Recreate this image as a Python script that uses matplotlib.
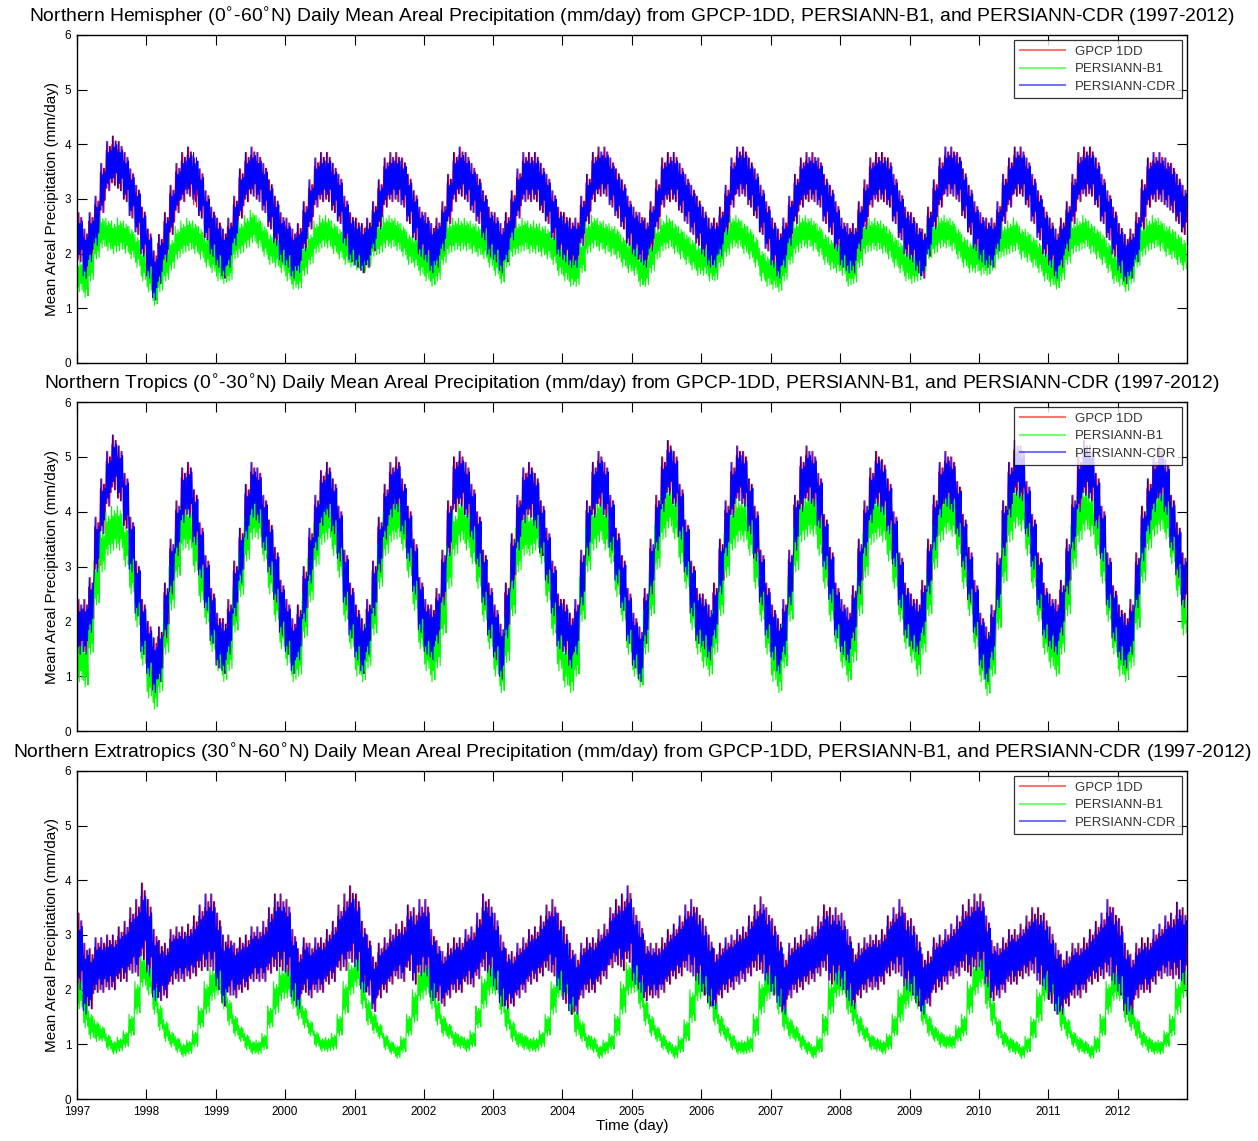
import numpy as np
import pandas as pd
import matplotlib
matplotlib.use("Agg")
import matplotlib.pyplot as plt

plt.rcParams['font.family'] = ['Liberation Sans', 'DejaVu Sans']
plt.rcParams['mathtext.fontset'] = 'dejavusans'

# monthly levels (mm/day), Jan 1997 .. Dec 2012
# Northern Hemisphere 0-60N
nh_gpcp = [
    2.3, 2.0, 2.3, 2.6, 3.2, 3.6, 3.7, 3.6, 3.4, 3.1, 2.8, 2.4,
    2.0, 1.6, 1.9, 2.3, 2.8, 3.2, 3.4, 3.5, 3.3, 3.1, 2.7, 2.4,
    2.2, 2.0, 2.2, 2.6, 3.1, 3.4, 3.5, 3.4, 3.2, 2.9, 2.6, 2.3,
    2.2, 2.0, 2.1, 2.5, 2.9, 3.3, 3.4, 3.4, 3.2, 3.0, 2.6, 2.3,
    2.2, 2.1, 2.2, 2.5, 2.9, 3.3, 3.4, 3.4, 3.3, 3.0, 2.7, 2.4,
    2.3, 2.1, 2.2, 2.5, 3.0, 3.4, 3.5, 3.4, 3.2, 3.0, 2.7, 2.4,
    2.3, 2.1, 2.3, 2.7, 3.1, 3.4, 3.4, 3.4, 3.2, 3.0, 2.7, 2.4,
    2.3, 2.2, 2.2, 2.6, 3.0, 3.4, 3.5, 3.5, 3.3, 3.1, 2.9, 2.6,
    2.4, 2.3, 2.2, 2.5, 2.9, 3.3, 3.4, 3.4, 3.2, 3.0, 2.8, 2.6,
    2.4, 2.2, 2.2, 2.4, 2.8, 3.3, 3.5, 3.5, 3.3, 3.1, 2.8, 2.5,
    2.2, 2.0, 2.2, 2.6, 3.0, 3.3, 3.4, 3.4, 3.3, 3.0, 2.8, 2.5,
    2.2, 2.1, 2.1, 2.5, 2.9, 3.3, 3.4, 3.4, 3.3, 3.0, 2.7, 2.4,
    2.3, 2.1, 2.0, 2.4, 2.9, 3.3, 3.5, 3.5, 3.4, 3.1, 2.8, 2.5,
    2.3, 2.2, 2.2, 2.5, 3.0, 3.3, 3.5, 3.5, 3.3, 3.0, 2.7, 2.4,
    2.2, 2.0, 2.2, 2.5, 3.0, 3.4, 3.5, 3.5, 3.3, 3.0, 2.7, 2.4,
    2.1, 1.9, 2.0, 2.3, 2.9, 3.3, 3.4, 3.4, 3.3, 3.2, 3.0, 2.8,
]
nh_b1 = [
    1.6, 1.5, 1.8, 2.2, 2.4, 2.35, 2.3, 2.35, 2.3, 2.2, 2.05, 1.8,
    1.6, 1.35, 1.6, 1.8, 2.0, 2.2, 2.3, 2.35, 2.3, 2.2, 2.05, 1.95,
    1.8, 1.75, 1.8, 2.2, 2.3, 2.4, 2.5, 2.4, 2.25, 2.1, 2.05, 1.95,
    1.8, 1.65, 1.65, 1.9, 2.1, 2.3, 2.4, 2.4, 2.3, 2.2, 2.1, 2.05,
    2.0, 1.95, 2.05, 2.25, 2.3, 2.4, 2.4, 2.35, 2.25, 2.1, 2.05, 1.9,
    1.8, 1.7, 1.8, 2.1, 2.3, 2.35, 2.35, 2.35, 2.3, 2.25, 2.2, 2.05,
    1.9, 1.75, 2.05, 2.25, 2.3, 2.35, 2.3, 2.3, 2.25, 2.2, 2.1, 1.9,
    1.8, 1.7, 1.7, 1.95, 2.3, 2.4, 2.35, 2.3, 2.25, 2.2, 2.05, 1.95,
    1.9, 1.7, 1.7, 1.95, 2.2, 2.35, 2.4, 2.3, 2.2, 2.1, 2.0, 1.9,
    1.9, 1.8, 1.8, 2.05, 2.25, 2.4, 2.4, 2.3, 2.2, 2.05, 1.8, 1.7,
    1.65, 1.6, 1.8, 2.1, 2.3, 2.4, 2.4, 2.35, 2.25, 2.1, 2.0, 1.95,
    1.9, 1.7, 1.75, 2.05, 2.3, 2.35, 2.35, 2.3, 2.2, 2.05, 1.95, 1.8,
    1.75, 1.8, 1.95, 2.2, 2.3, 2.4, 2.4, 2.35, 2.2, 2.05, 1.95, 1.95,
    1.9, 1.9, 2.0, 2.2, 2.25, 2.3, 2.35, 2.2, 2.15, 2.05, 1.95, 1.8,
    1.7, 1.65, 1.8, 2.1, 2.3, 2.35, 2.4, 2.3, 2.2, 2.1, 1.95, 1.75,
    1.7, 1.6, 1.75, 2.05, 2.25, 2.35, 2.4, 2.35, 2.25, 2.2, 2.1, 2.0,
]
nh_cdr = [
    2.3, 2.0, 2.3, 2.6, 3.2, 3.6, 3.7, 3.6, 3.4, 3.1, 2.8, 2.4,
    2.0, 1.6, 1.9, 2.3, 2.8, 3.2, 3.4, 3.5, 3.4, 3.1, 2.7, 2.4,
    2.2, 2.0, 2.2, 2.6, 3.1, 3.4, 3.5, 3.4, 3.2, 2.9, 2.6, 2.3,
    2.2, 2.0, 2.1, 2.5, 2.9, 3.3, 3.4, 3.4, 3.2, 3.0, 2.6, 2.3,
    2.2, 2.1, 2.2, 2.5, 2.9, 3.3, 3.4, 3.4, 3.3, 3.0, 2.7, 2.4,
    2.3, 2.1, 2.2, 2.5, 3.0, 3.4, 3.5, 3.4, 3.2, 3.0, 2.7, 2.4,
    2.3, 2.1, 2.3, 2.7, 3.1, 3.4, 3.4, 3.4, 3.2, 3.0, 2.7, 2.4,
    2.3, 2.2, 2.2, 2.6, 3.0, 3.4, 3.5, 3.5, 3.3, 3.1, 2.9, 2.6,
    2.4, 2.3, 2.2, 2.5, 2.9, 3.3, 3.4, 3.4, 3.2, 3.0, 2.8, 2.6,
    2.4, 2.2, 2.2, 2.4, 2.8, 3.3, 3.5, 3.5, 3.3, 3.1, 2.8, 2.5,
    2.2, 2.0, 2.2, 2.6, 3.0, 3.3, 3.4, 3.4, 3.3, 3.0, 2.8, 2.5,
    2.2, 2.1, 2.1, 2.5, 2.9, 3.3, 3.4, 3.4, 3.3, 3.0, 2.7, 2.4,
    2.3, 2.1, 2.0, 2.4, 2.9, 3.3, 3.5, 3.5, 3.4, 3.1, 2.8, 2.5,
    2.3, 2.2, 2.2, 2.5, 3.0, 3.3, 3.5, 3.5, 3.3, 3.0, 2.7, 2.4,
    2.2, 2.0, 2.2, 2.5, 3.0, 3.4, 3.5, 3.5, 3.3, 3.0, 2.7, 2.4,
    2.1, 1.9, 2.0, 2.3, 2.9, 3.3, 3.4, 3.4, 3.3, 3.2, 3.0, 2.8,
]

# Northern Tropics 0-30N
tr_gpcp = [
    1.9, 1.9, 2.3, 3.4, 4.1, 4.6, 4.9, 4.7, 4.2, 3.4, 2.6, 1.9,
    1.5, 1.2, 1.4, 2.2, 3.0, 3.7, 4.3, 4.4, 3.9, 3.3, 2.7, 2.1,
    1.65, 1.55, 1.9, 2.6, 3.2, 4.0, 4.4, 4.3, 3.8, 3.35, 2.85, 2.25,
    1.9, 1.55, 1.8, 2.5, 3.2, 3.8, 4.25, 4.4, 4.1, 3.6, 2.8, 2.2,
    1.8, 1.55, 1.9, 2.6, 3.4, 4.0, 4.4, 4.5, 4.1, 3.6, 3.0, 2.3,
    1.9, 1.8, 2.1, 2.8, 3.7, 4.5, 4.6, 4.4, 4.0, 3.5, 2.8, 2.2,
    1.8, 1.45, 2.2, 3.1, 3.8, 4.3, 4.4, 4.2, 3.7, 3.2, 2.6, 2.0,
    1.9, 1.65, 1.9, 2.8, 3.7, 4.4, 4.6, 4.4, 3.8, 3.2, 2.7, 2.1,
    1.65, 1.4, 2.1, 3.0, 3.8, 4.5, 4.8, 4.6, 4.0, 3.35, 2.6, 2.1,
    2.0, 1.8, 2.2, 3.0, 3.7, 4.4, 4.7, 4.6, 4.1, 3.6, 2.8, 2.2,
    1.8, 1.55, 1.9, 2.8, 3.8, 4.5, 4.7, 4.6, 4.2, 3.45, 2.85, 2.2,
    1.9, 1.75, 2.15, 3.0, 3.7, 4.3, 4.6, 4.45, 4.1, 3.5, 2.75, 2.2,
    2.0, 1.9, 2.25, 3.0, 3.8, 4.4, 4.6, 4.5, 4.05, 3.45, 2.85, 2.25,
    1.65, 1.4, 1.8, 2.75, 3.7, 4.4, 4.8, 4.7, 4.05, 3.45, 2.75, 2.2,
    2.0, 1.9, 2.25, 3.0, 3.8, 4.5, 4.8, 4.7, 4.2, 3.6, 2.75, 2.15,
    1.8, 1.65, 1.9, 2.75, 3.6, 4.1, 4.5, 4.7, 4.45, 3.8, 3.3, 2.75,
]
tr_b1 = [
    1.3, 1.2, 1.8, 2.7, 3.3, 3.6, 3.7, 3.7, 3.4, 2.9, 2.3, 1.6,
    1.0, 0.8, 1.1, 1.8, 2.6, 3.2, 3.7, 3.7, 3.3, 2.75, 2.35, 1.85,
    1.5, 1.3, 1.5, 2.2, 2.85, 3.5, 3.9, 3.9, 3.5, 2.9, 2.4, 1.9,
    1.6, 1.3, 1.4, 2.1, 2.75, 3.4, 3.8, 3.9, 3.6, 3.2, 2.4, 1.9,
    1.4, 1.3, 1.55, 2.15, 3.0, 3.6, 3.85, 3.9, 3.7, 3.2, 2.6, 1.9,
    1.5, 1.3, 1.55, 2.15, 3.0, 3.6, 3.85, 3.7, 3.45, 3.0, 2.4, 1.9,
    1.4, 1.1, 1.65, 2.5, 3.3, 3.6, 3.6, 3.7, 3.45, 2.75, 2.15, 1.5,
    1.2, 1.1, 1.4, 2.4, 3.3, 3.7, 3.85, 3.7, 3.45, 2.85, 2.4, 1.8,
    1.4, 1.2, 1.8, 2.5, 3.35, 3.9, 4.1, 3.9, 3.45, 3.0, 2.25, 1.8,
    1.55, 1.4, 1.8, 2.5, 3.2, 3.7, 3.85, 3.85, 3.6, 3.0, 2.4, 1.8,
    1.3, 1.1, 1.55, 2.4, 3.3, 3.85, 3.95, 3.95, 3.6, 3.0, 2.4, 1.9,
    1.55, 1.3, 1.65, 2.5, 3.2, 3.8, 3.9, 3.85, 3.5, 3.0, 2.4, 1.9,
    1.65, 1.4, 1.8, 2.5, 3.35, 3.85, 4.0, 3.95, 3.6, 3.0, 2.5, 1.9,
    1.3, 1.05, 1.4, 2.25, 3.1, 3.85, 4.1, 4.05, 3.6, 3.0, 2.4, 1.8,
    1.55, 1.4, 1.8, 2.5, 3.35, 3.85, 4.05, 3.95, 3.6, 3.1, 2.4, 1.8,
    1.4, 1.3, 1.55, 2.25, 3.1, 3.7, 3.95, 4.05, 3.9, 3.45, 2.85, 2.15,
]
tr_cdr = [
    1.9, 1.9, 2.3, 3.4, 4.1, 4.6, 4.9, 4.7, 4.2, 3.4, 2.6, 1.9,
    1.5, 1.2, 1.4, 2.2, 3.0, 3.7, 4.3, 4.4, 3.9, 3.3, 2.7, 2.1,
    1.65, 1.55, 1.9, 2.6, 3.2, 4.0, 4.4, 4.3, 3.8, 3.35, 2.85, 2.25,
    1.9, 1.55, 1.8, 2.5, 3.2, 3.8, 4.25, 4.4, 4.1, 3.6, 2.8, 2.2,
    1.8, 1.55, 1.9, 2.6, 3.4, 4.0, 4.4, 4.5, 4.1, 3.6, 3.0, 2.3,
    1.9, 1.8, 2.1, 2.8, 3.7, 4.5, 4.6, 4.4, 4.0, 3.5, 2.8, 2.2,
    1.8, 1.45, 2.2, 3.1, 3.8, 4.3, 4.4, 4.2, 3.7, 3.2, 2.6, 2.0,
    1.9, 1.65, 1.9, 2.8, 3.7, 4.4, 4.6, 4.4, 3.8, 3.2, 2.7, 2.1,
    1.65, 1.4, 2.1, 3.0, 3.8, 4.5, 4.8, 4.6, 4.0, 3.35, 2.6, 2.1,
    2.0, 1.8, 2.2, 3.0, 3.7, 4.4, 4.7, 4.6, 4.1, 3.6, 2.8, 2.2,
    1.8, 1.55, 1.9, 2.8, 3.8, 4.5, 4.7, 4.6, 4.2, 3.45, 2.85, 2.2,
    1.9, 1.75, 2.15, 3.0, 3.7, 4.3, 4.6, 4.45, 4.1, 3.5, 2.75, 2.2,
    2.0, 1.9, 2.25, 3.0, 3.8, 4.4, 4.6, 4.5, 4.05, 3.45, 2.85, 2.25,
    1.65, 1.4, 1.8, 2.75, 3.7, 4.4, 4.8, 4.7, 4.05, 3.45, 2.75, 2.2,
    2.0, 1.9, 2.25, 3.0, 3.8, 4.5, 4.8, 4.7, 4.2, 3.6, 2.75, 2.15,
    1.8, 1.65, 1.9, 2.75, 3.6, 4.1, 4.5, 4.7, 4.45, 3.8, 3.3, 2.75,
]

# Northern Extratropics 30N-60N
ex_gpcp = [
    2.7, 2.2, 2.2, 2.45, 2.45, 2.5, 2.5, 2.65, 2.7, 2.9, 2.95, 3.25,
    2.95, 2.45, 2.35, 2.35, 2.6, 2.65, 2.65, 2.7, 2.8, 2.95, 3.05, 3.05,
    2.7, 2.35, 2.45, 2.35, 2.45, 2.5, 2.65, 2.65, 2.7, 2.9, 3.05, 3.05,
    2.95, 2.45, 2.2, 2.45, 2.35, 2.45, 2.45, 2.6, 2.7, 2.95, 3.05, 3.2,
    3.05, 2.6, 2.45, 2.1, 2.35, 2.45, 2.6, 2.7, 2.7, 2.95, 2.8, 2.95,
    2.95, 2.45, 2.35, 2.2, 2.35, 2.45, 2.45, 2.6, 2.6, 2.8, 3.05, 2.95,
    2.7, 2.35, 2.2, 2.2, 2.35, 2.45, 2.6, 2.65, 2.8, 2.95, 2.95, 2.7,
    2.45, 2.2, 2.1, 2.35, 2.45, 2.45, 2.6, 2.7, 2.95, 3.05, 3.05, 3.2,
    2.8, 2.6, 2.35, 2.35, 2.35, 2.45, 2.6, 2.7, 2.8, 2.95, 2.95, 2.8,
    2.6, 2.35, 2.2, 2.35, 2.45, 2.5, 2.6, 2.65, 2.8, 2.95, 3.0, 2.8,
    2.6, 2.35, 2.1, 2.35, 2.45, 2.5, 2.6, 2.65, 2.8, 2.95, 2.8, 2.8,
    2.7, 2.45, 2.2, 2.35, 2.45, 2.5, 2.5, 2.6, 2.8, 2.9, 2.95, 2.7,
    2.6, 2.35, 2.1, 2.2, 2.45, 2.5, 2.6, 2.7, 2.8, 2.95, 2.95, 3.05,
    3.05, 2.7, 2.35, 2.35, 2.45, 2.6, 2.6, 2.7, 2.8, 2.9, 2.8, 2.7,
    2.45, 2.2, 2.1, 2.2, 2.35, 2.35, 2.45, 2.6, 2.7, 2.8, 2.95, 2.8,
    2.6, 2.2, 2.1, 2.35, 2.45, 2.45, 2.6, 2.7, 2.8, 2.8, 2.9, 2.8,
]
ex_b1 = [
    1.95, 1.6, 1.35, 1.25, 1.2, 1.05, 0.95, 1.0, 1.1, 1.35, 1.85, 2.35,
    2.2, 1.85, 1.5, 1.25, 1.1, 1.0, 0.9, 0.95, 1.1, 1.5, 1.85, 2.1,
    2.2, 1.95, 1.6, 1.35, 1.2, 1.05, 0.95, 0.95, 1.05, 1.5, 1.85, 2.1,
    2.15, 1.95, 1.7, 1.5, 1.3, 1.1, 1.0, 1.0, 1.05, 1.35, 1.85, 2.2,
    2.35, 1.95, 1.6, 1.4, 1.25, 1.05, 0.95, 0.87, 1.0, 1.35, 1.7, 2.1,
    2.2, 1.95, 1.6, 1.35, 1.25, 1.1, 1.05, 1.0, 1.1, 1.5, 1.95, 2.2,
    2.2, 1.85, 1.5, 1.25, 1.1, 1.05, 1.0, 1.0, 1.1, 1.35, 1.85, 2.15,
    2.2, 1.85, 1.4, 1.25, 1.05, 1.0, 0.87, 0.95, 1.05, 1.35, 1.85, 2.2,
    2.25, 1.95, 1.6, 1.35, 1.2, 1.05, 0.95, 0.87, 1.0, 1.25, 1.7, 2.1,
    2.2, 1.95, 1.6, 1.35, 1.2, 1.05, 0.95, 0.95, 1.0, 1.35, 1.85, 2.1,
    2.2, 1.85, 1.5, 1.3, 1.2, 1.05, 0.95, 0.87, 1.0, 1.35, 1.85, 2.15,
    2.2, 1.85, 1.6, 1.35, 1.2, 1.05, 1.0, 0.95, 1.05, 1.35, 1.7, 1.95,
    2.1, 1.95, 1.6, 1.35, 1.2, 1.1, 1.05, 1.05, 1.2, 1.35, 1.85, 2.2,
    2.35, 1.95, 1.6, 1.3, 1.1, 1.0, 0.95, 0.87, 1.0, 1.3, 1.7, 2.1,
    2.2, 1.85, 1.5, 1.3, 1.1, 1.0, 0.95, 0.87, 1.0, 1.35, 1.85, 2.1,
    2.1, 1.7, 1.5, 1.3, 1.1, 1.0, 0.95, 0.95, 1.1, 1.35, 1.85, 2.15,
]
ex_cdr = [
    2.7, 2.2, 2.2, 2.45, 2.45, 2.5, 2.5, 2.65, 2.7, 2.9, 2.95, 3.25,
    2.95, 2.45, 2.35, 2.35, 2.6, 2.65, 2.65, 2.7, 2.8, 2.95, 3.05, 3.05,
    2.7, 2.35, 2.45, 2.35, 2.45, 2.5, 2.65, 2.65, 2.7, 2.9, 3.05, 3.05,
    2.95, 2.45, 2.2, 2.45, 2.35, 2.45, 2.45, 2.6, 2.7, 2.95, 3.05, 3.2,
    3.05, 2.6, 2.45, 2.1, 2.35, 2.45, 2.6, 2.7, 2.7, 2.95, 2.8, 2.95,
    2.95, 2.45, 2.35, 2.2, 2.35, 2.45, 2.45, 2.6, 2.6, 2.8, 3.05, 2.95,
    2.7, 2.35, 2.2, 2.2, 2.35, 2.45, 2.6, 2.65, 2.8, 2.95, 2.95, 2.7,
    2.45, 2.2, 2.1, 2.35, 2.45, 2.45, 2.6, 2.7, 2.95, 3.05, 3.05, 3.2,
    2.8, 2.6, 2.35, 2.35, 2.35, 2.45, 2.6, 2.7, 2.8, 2.95, 2.95, 2.8,
    2.6, 2.35, 2.2, 2.35, 2.45, 2.5, 2.6, 2.65, 2.8, 2.95, 3.0, 2.8,
    2.6, 2.35, 2.1, 2.35, 2.45, 2.5, 2.6, 2.65, 2.8, 2.95, 2.8, 2.8,
    2.7, 2.45, 2.2, 2.35, 2.45, 2.5, 2.5, 2.6, 2.8, 2.9, 2.95, 2.7,
    2.6, 2.35, 2.1, 2.2, 2.45, 2.5, 2.6, 2.7, 2.8, 2.95, 2.95, 3.05,
    3.05, 2.7, 2.35, 2.35, 2.45, 2.6, 2.6, 2.7, 2.8, 2.9, 2.8, 2.7,
    2.45, 2.2, 2.1, 2.2, 2.35, 2.35, 2.45, 2.6, 2.7, 2.8, 2.95, 2.8,
    2.6, 2.2, 2.1, 2.35, 2.45, 2.45, 2.6, 2.7, 2.8, 2.8, 2.9, 2.8,
]

# typical day-to-day half range by calendar month (mm/day)
nh_spread_gpcp = [0.45, 0.45, 0.45, 0.45, 0.45, 0.45, 0.45, 0.45, 0.45, 0.45, 0.45, 0.45]
nh_spread_b1 = [0.3, 0.3, 0.3, 0.3, 0.3, 0.3, 0.3, 0.3, 0.3, 0.3, 0.3, 0.3]
nh_spread_cdr = [0.45, 0.45, 0.45, 0.45, 0.45, 0.45, 0.45, 0.45, 0.45, 0.45, 0.45, 0.45]
tr_spread_gpcp = [0.5, 0.5, 0.5, 0.5, 0.5, 0.5, 0.5, 0.5, 0.5, 0.5, 0.5, 0.5]
tr_spread_b1 = [0.4, 0.4, 0.4, 0.4, 0.4, 0.4, 0.4, 0.4, 0.4, 0.4, 0.4, 0.4]
tr_spread_cdr = [0.5, 0.5, 0.5, 0.5, 0.5, 0.5, 0.5, 0.5, 0.5, 0.5, 0.5, 0.5]
ex_spread_gpcp = [0.7, 0.65, 0.55, 0.5, 0.5, 0.5, 0.5, 0.5, 0.55, 0.6, 0.7, 0.7]
ex_spread_b1 = [0.3, 0.3, 0.25, 0.2, 0.15, 0.15, 0.13, 0.13, 0.15, 0.2, 0.3, 0.3]
ex_spread_cdr = [0.7, 0.65, 0.55, 0.5, 0.5, 0.5, 0.5, 0.5, 0.55, 0.6, 0.7, 0.7]

series_names = ['GPCP 1DD', 'PERSIANN-B1', 'PERSIANN-CDR']
series_colors = ['#ff0000', '#00ff00', '#0000ff']
year_ticks = list(range(1997, 2013))

titles = [
    r'Northern Hemispher (0$^{\circ}$-60$^{\circ}$N) Daily Mean Areal Precipitation (mm/day) from GPCP-1DD, PERSIANN-B1, and PERSIANN-CDR (1997-2012)',
    r'Northern Tropics (0$^{\circ}$-30$^{\circ}$N) Daily Mean Areal Precipitation (mm/day) from GPCP-1DD, PERSIANN-B1, and PERSIANN-CDR (1997-2012)',
    r'Northern Extratropics (30$^{\circ}$N-60$^{\circ}$N) Daily Mean Areal Precipitation (mm/day) from GPCP-1DD, PERSIANN-B1, and PERSIANN-CDR (1997-2012)',
]
panels = [
    [(nh_gpcp, nh_spread_gpcp), (nh_b1, nh_spread_b1), (nh_cdr, nh_spread_cdr)],
    [(tr_gpcp, tr_spread_gpcp), (tr_b1, tr_spread_b1), (tr_cdr, tr_spread_cdr)],
    [(ex_gpcp, ex_spread_gpcp), (ex_b1, ex_spread_b1), (ex_cdr, ex_spread_cdr)],
]

months = pd.date_range('1997-01-01', periods=192, freq='MS')
# how far each sample within a month swings, as a share of the half range
swing = np.array([1.0, -0.7, 0.55, -1.0, 0.8, -0.5, 0.65, -0.9])


def daily_trace(level, spread, shift):
    lev = np.asarray(level)
    spr = np.tile(spread, len(lev) // 12)
    days = np.arange(len(swing)) * 3.7 + 1 + shift
    t = months.values[:, None] + (days * 86400).astype('timedelta64[s]')[None, :]
    w = np.roll(swing, shift)
    v = lev[:, None] + spr[:, None] * w[None, :]
    return t.ravel(), v.ravel()


fig = plt.figure(figsize=(12.58, 11.41), dpi=100)
boxes = [
    [0.0612, 0.6819, 0.8824, 0.2875],
    [0.0612, 0.3593, 0.8824, 0.2883],
    [0.0612, 0.0368, 0.8824, 0.2875],
]
shifts = [2, 0, 1]

for k in range(3):
    ax = fig.add_axes(boxes[k])
    for (lev, spr), name, col, sh in zip(panels[k], series_names, series_colors, shifts):
        t, v = daily_trace(lev, spr, sh)
        ax.plot(t, v, color=col, lw=0.8, label=name)

    ax.set_xlim(pd.Timestamp('1997-01-01'), pd.Timestamp('2013-01-01'))
    ax.set_ylim(0, 6)
    ax.set_yticks(range(7))
    ax.set_xticks([pd.Timestamp(f'{y}-01-01') for y in year_ticks])
    if k == 2:
        ax.set_xticklabels([str(y) for y in year_ticks])
        ax.set_xlabel('Time (day)', fontsize=11, labelpad=1)
    else:
        ax.set_xticklabels([])
    ax.tick_params(direction='in', length=7, top=True, right=True, labelsize=8.5)
    ax.tick_params(axis='x', pad=5)
    ax.tick_params(axis='y', pad=4)
    ax.set_ylabel('Mean Areal Precipitation (mm/day)', fontsize=11, labelpad=4)
    ax.set_title(titles[k], fontsize=13.9, pad=9)
    for sp in ax.spines.values():
        sp.set_linewidth(1.0)

    leg = ax.legend(loc='upper right', fontsize=9.5, frameon=True, fancybox=False,
                    borderaxespad=0.4, handlelength=3.4, labelspacing=0.4,
                    borderpad=0.4)
    leg.get_frame().set_edgecolor('black')
    leg.get_frame().set_linewidth(0.9)
    for h in leg.get_lines():
        h.set_alpha(0.55)
        h.set_linewidth(1.5)
    for txt in leg.get_texts():
        txt.set_color('#333333')

fig.savefig('out.png', dpi=100)
